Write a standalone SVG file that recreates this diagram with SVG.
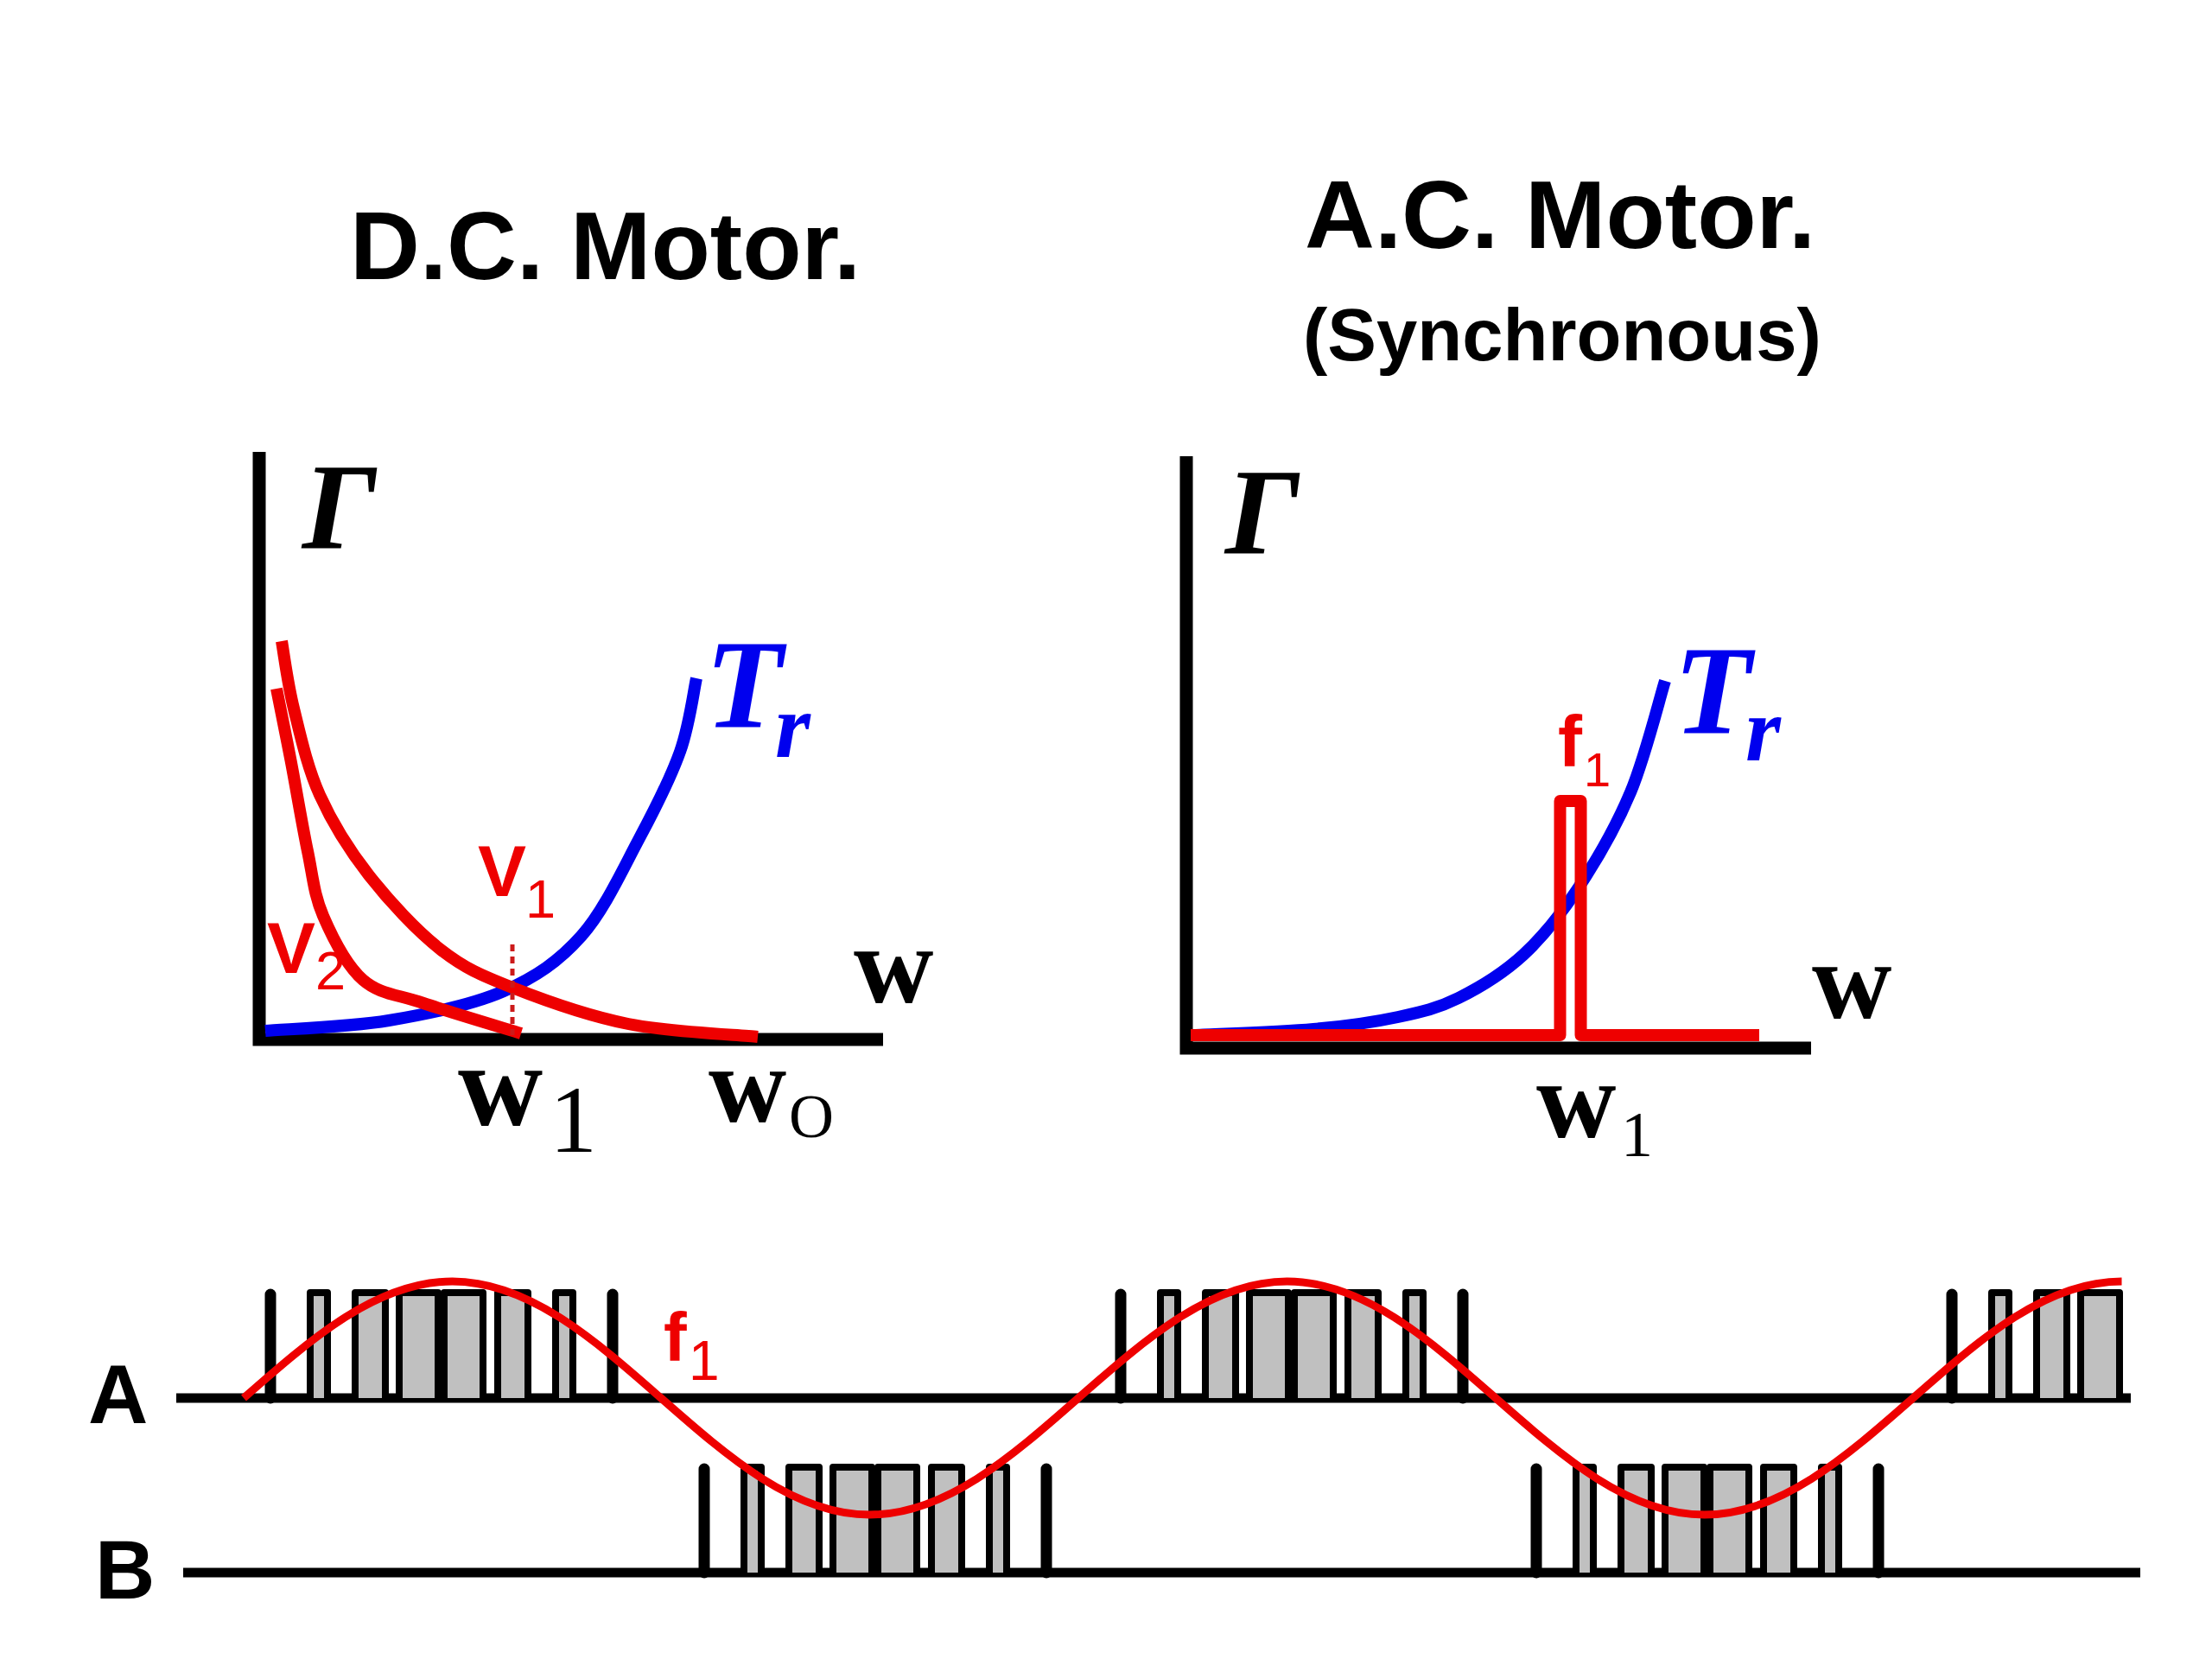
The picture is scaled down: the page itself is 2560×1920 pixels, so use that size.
<svg xmlns="http://www.w3.org/2000/svg" width="2560" height="1920" viewBox="0 0 2560 1920">
<style>
.ttl{font-family:"Liberation Sans",Arial,sans-serif;font-weight:bold;fill:#000}
.gam{font-family:"Liberation Serif","Times New Roman",serif;font-weight:bold;font-style:italic;fill:#000}
.tr{font-family:"Liberation Serif","Times New Roman",serif;font-weight:bold;font-style:italic;fill:#0000ee}
.w{font-family:"Liberation Serif","Times New Roman",serif;font-weight:bold;fill:#000}
.wsub{font-family:"Liberation Serif","Times New Roman",serif;font-weight:normal;fill:#000}
.rl{font-family:"Liberation Sans",Arial,sans-serif;font-weight:bold;fill:#ee0000}
.rs{font-family:"Liberation Sans",Arial,sans-serif;font-weight:normal;fill:#ee0000}
.axis{stroke:#000;stroke-width:15;fill:none;stroke-linecap:butt}
.blue{stroke:#0000ee;stroke-width:14;fill:none;stroke-linejoin:round;stroke-linecap:butt}
.red{stroke:#ee0000;stroke-width:14;fill:none;stroke-linejoin:round;stroke-linecap:butt}
.sine{stroke:#ee0000;stroke-width:9;fill:none}
.base{stroke:#000;stroke-width:11;fill:none}
.pulse{fill:#c0c0c0;stroke:#000;stroke-width:8;stroke-linejoin:round}
.spike{stroke:#000;stroke-width:13;stroke-linecap:round;fill:none}
</style>
<defs>
<g id="grpL">
<line class="spike" x1="-198" y1="0" x2="-198" y2="-120"/>
<path class="pulse" d="M-152,0 V-122 H-132 V0"/>
<path class="pulse" d="M-100,0 V-122 H-65 V0"/>
<path class="pulse" d="M-49,0 V-122 H-4 V0"/>
</g>
<g id="grpR">
<path class="pulse" d="M3,0 V-122 H48 V0"/>
<path class="pulse" d="M65,0 V-122 H100 V0"/>
<path class="pulse" d="M132,0 V-122 H152 V0"/>
<line class="spike" x1="198" y1="0" x2="198" y2="-120"/>
</g>
<g id="grp">
<use href="#grpL"/>
<use href="#grpR"/>
</g>
</defs>
<rect x="0" y="0" width="2560" height="1920" fill="#fff"/>

<g id="title-dc">
<text class="ttl" x="405" y="323" font-size="112">D.C. Motor.</text>
</g>
<g id="title-ac">
<text class="ttl" x="1510" y="287" font-size="112">A.C. Motor.</text>
<text class="ttl" x="1508" y="417" font-size="85">(Synchronous)</text>
</g>

<g id="graph-dc">
<polyline class="axis" points="300,523 300,1203 1022,1203"/>
<text class="gam" x="350" y="634" font-size="142">Γ</text>
<path class="blue" d="M307,1193 C330.8,1191 404,1188.7 450,1181 C496,1173.3 545.8,1163.3 583,1147 C620.2,1130.7 646.8,1112.5 673,1083 C699.2,1053.5 721,1005.5 740,970 C759,934.5 776,900.8 787,870 C798,839.2 802.8,799.2 806,785"/>
<path class="red" d="M326,742 C328.3,755 332.7,790.3 340,820 C347.3,849.7 355.5,887.8 370,920 C384.5,952.2 403.7,983.2 427,1013 C450.3,1042.8 482.3,1077.3 510,1099 C537.7,1120.7 556.8,1128.7 593,1143 C629.2,1157.3 679.7,1175.5 727,1185 C774.3,1194.5 852,1197.5 877,1200"/>
<path class="red" d="M320,797 C322.75,810.8 330.5,848.7 336.5,880 C342.5,911.3 349.75,955 356,985 C362.25,1015 363.3,1035.2 374,1060 C384.7,1084.8 400.7,1117.2 420,1134 C439.3,1150.8 459.5,1150.7 490,1161 C520.5,1171.3 584.2,1190.2 603,1196"/>
<line x1="593" y1="1093" x2="593" y2="1198" stroke="#cc1a1a" stroke-width="5" stroke-dasharray="8 6"/>
<text class="tr" x="816" y="841" font-size="147">T</text>
<text class="tr" x="897" y="876" font-size="105">r</text>
<text class="rl" x="553" y="1037" font-size="84">V</text>
<text class="rs" x="608" y="1062" font-size="63">1</text>
<text class="rl" x="309" y="1126" font-size="84">V</text>
<text class="rs" x="365" y="1145" font-size="63">2</text>
<text class="w" x="988" y="1160" font-size="128">w</text>
<text class="w" x="530" y="1302" font-size="136">w</text>
<text class="wsub" x="636" y="1333" font-size="110">1</text>
<text class="w" x="820" y="1298" font-size="125">w</text>
<text class="wsub" x="913" y="1316" font-size="72">O</text>
</g>

<g id="graph-ac">
<polyline class="axis" points="1373,528 1373,1213 2096,1213"/>
<text class="gam" x="1418" y="640" font-size="142">Γ</text>
<path class="blue" d="M1382,1198 C1405,1196.8 1480.7,1194.5 1520,1191 C1559.3,1187.5 1590,1183 1618,1177 C1646,1171 1663.8,1167 1688,1155 C1712.2,1143 1739.8,1126.3 1763,1105 C1786.2,1083.7 1806.3,1058.3 1827,1027 C1847.7,995.7 1870.3,956.8 1887,917 C1903.7,877.2 1920.3,809.5 1927,788"/>
<path class="red" d="M1378,1198 H1805.5 V927 H1829.5 V1198 H2036"/>
<text class="tr" x="1937" y="848" font-size="147">T</text>
<text class="tr" x="2020" y="880" font-size="105">r</text>
<text class="rl" x="1803" y="887" font-size="84">f</text>
<text class="rs" x="1833" y="910" font-size="56">1</text>
<text class="w" x="2097" y="1178" font-size="128">w</text>
<text class="w" x="1778" y="1316" font-size="128">w</text>
<text class="wsub" x="1876" y="1338" font-size="74">1</text>
</g>

<g id="waveform">
<text class="ttl" x="102" y="1647" font-size="96">A</text>
<text class="ttl" x="110" y="1850" font-size="96">B</text>
<line class="base" x1="204" y1="1618" x2="2466" y2="1618"/>
<line class="base" x1="212" y1="1820" x2="2477" y2="1820"/>
<use href="#grp" transform="translate(511,1618)"/>
<use href="#grp" transform="translate(1495,1618)"/>
<use href="#grpL" transform="translate(2457,1618)"/>
<use href="#grp" transform="translate(1013,1820)"/>
<use href="#grp" transform="translate(1976,1820)"/>
<path class="sine" d="M282,1618 C360.75,1548.84 436.1,1483 523.5,1483 S686.25,1548.84 765,1618 S919.1,1753 1006.5,1753 S1169.25,1687.16 1248,1618 S1402.1,1483 1489.5,1483 S1652.25,1548.84 1731,1618 S1885.1,1753 1972.5,1753 S2135.25,1687.16 2214,1618 S2368.1,1483 2455.5,1483"/>
<text class="rl" x="768" y="1575" font-size="80">f</text>
<text class="rs" x="797" y="1597" font-size="64">1</text>
</g>
</svg>
